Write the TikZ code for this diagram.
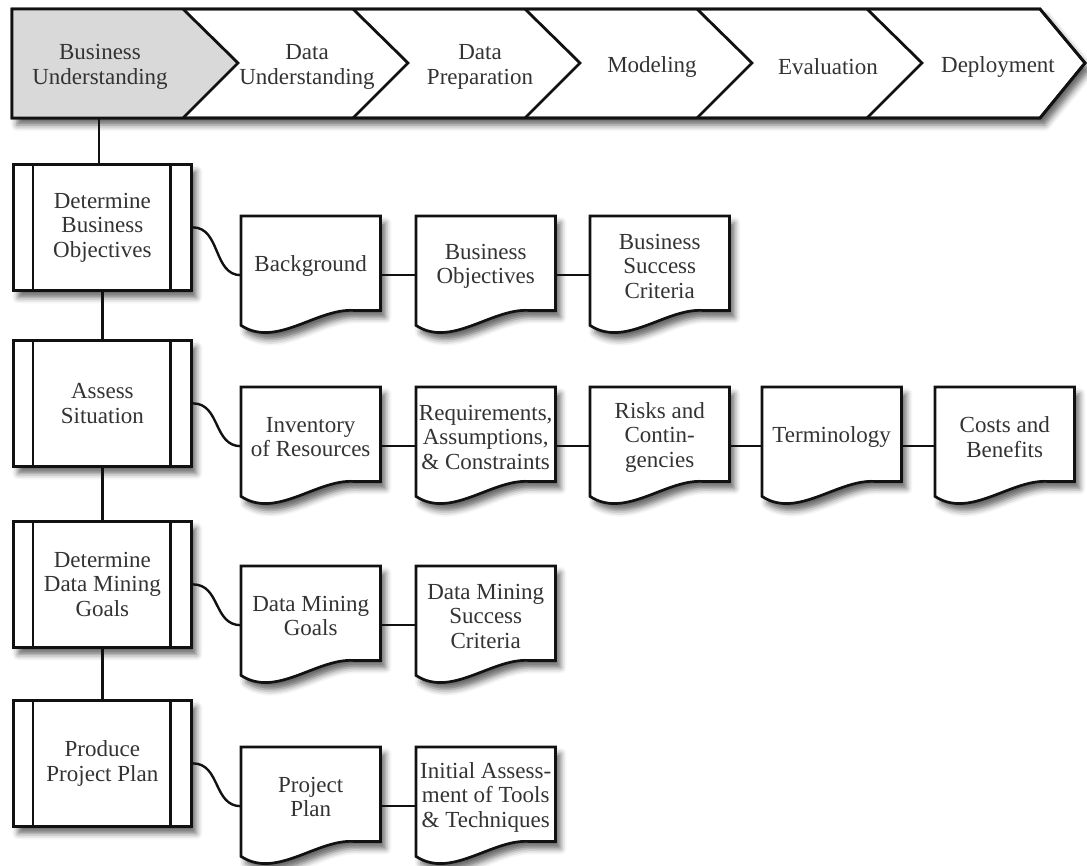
\documentclass[tikz,border=0pt]{standalone}
\usepackage{fontspec}
\setmainfont{Liberation Serif}
\usetikzlibrary{shadows.blur,backgrounds}
\definecolor{txtc}{HTML}{333333}
\definecolor{linec}{HTML}{111111}
\definecolor{greyfill}{HTML}{D9D9D9}
\tikzset{
  shad/.style={blur shadow={shadow xshift=5pt, shadow yshift=-7pt, shadow blur radius=6pt, shadow opacity=60}},
  txt/.style={font=\fontsize{23}{24.5}\selectfont, text=txtc, align=center, inner sep=0pt},
  proc/.style={draw=linec, line width=2.7pt, fill=white, minimum width=178pt, minimum height=126pt, anchor=north west, shad, txt},
  docbox/.style={minimum width=139pt, minimum height=94pt, anchor=north west, txt},
  docline/.style={draw=linec, line width=2.7pt, fill=white, shad},
  link/.style={draw=linec, line width=2.4pt},
  border/.style={draw=linec, line width=2.8pt, line join=miter},
}
% document outline: node sits 3pt below the drawn top edge
\newcommand\docshape[1]{%
  \path[docline] ([yshift=3pt]#1.north west) -- ([yshift=3pt]#1.north east) -- ([yshift=3pt]#1.south east)
    -- ([xshift=-27pt,yshift=3pt]#1.south east)
    .. controls ([xshift=-64pt,yshift=5pt]#1.south east) and ([xshift=35pt,yshift=-35pt]#1.south west)
    .. ([yshift=-12pt]#1.south west) -- cycle;}
\begin{document}
\begin{tikzpicture}[x=1pt,y=-1pt]
\useasboundingbox (0,0) rectangle (1087,865);
% banner
\path[border, fill=white, shad] (12,9) -- (1040,9) -- (1085,63) -- (1040,118) -- (12,118) -- cycle;
\fill[greyfill] (12,9) -- (183,9) -- (238,63) -- (183,118) -- (12,118) -- cycle;
\foreach \xx in {183,353,525,697,867}{
  \draw[border] (\xx,9) -- (\xx+55,63) -- (\xx,118);
}
\draw[border] (12,9) -- (1040,9) -- (1085,63) -- (1040,118) -- (12,118) -- cycle;
\node[txt] (c1) at (100,67) {Business\\Understanding};
\node[txt] (c2) at (307,67) {Data\\Understanding};
\node[txt] (c3) at (480,67) {Data\\Preparation};
\node[txt] (c4) at (652,67) {Modeling};
\node[txt] (c5) at (828,67) {Evaluation};
\node[txt] (c6) at (998,67) {Deployment};
\coordinate (cb) at (99,118);
% process boxes
\node[proc] (p1) at (12,163) {Determine\\Business\\Objectives};
\node[proc] (p2) at (12,339) {Assess\\Situation};
\node[proc] (p3) at (12,520) {Determine\\Data Mining\\Goals};
\node[proc] (p4) at (12,699) {Produce\\Project Plan};
\foreach \p in {p1,p2,p3,p4}{
  \draw[linec, line width=2.7pt] ([xshift=21pt]\p.north west) -- ([xshift=21pt]\p.south west);
  \draw[linec, line width=2.7pt] ([xshift=-22pt]\p.north east) -- ([xshift=-22pt]\p.south east);
}
% documents
\node[docbox] (a1) at (241,219) {Background};
\node[docbox] (a2) at (416,219) {Business\\Objectives};
\node[docbox] (a3) at (590,219) {Business\\Success\\Criteria};
\node[docbox] (b1) at (241,390) {Inventory\\of Resources};
\node[docbox] (b2) at (416,390) {Requirements,\\Assumptions,\\\& Constraints};
\node[docbox] (b3) at (590,390) {Risks and\\Contin-\\gencies};
\node[docbox] (b4) at (762,390) {Terminology};
\node[docbox] (b5) at (935,390) {Costs and\\Benefits};
\node[docbox] (e1) at (241,569) {Data Mining\\Goals};
\node[docbox] (e2) at (416,569) {Data Mining\\Success\\Criteria};
\node[docbox] (f1) at (241,750) {Project\\Plan};
\node[docbox] (f2) at (416,750) {Initial Assess-\\ment of Tools\\\& Techniques};
\begin{pgfonlayer}{background}
\foreach \d in {a1,a2,a3,b1,b2,b3,b4,b5,e1,e2,f1,f2}{\docshape{\d}}
\end{pgfonlayer}
% connectors
\draw[link] (cb) -- (cb |- p1.north);
\draw[link] (p1.south) -- (p2.north);
\draw[link] (p2.south) -- (p3.north);
\draw[link] (p3.south) -- (p4.north);
\draw[link] (p1.east) .. controls +(28,0) and +(-28,0) .. ([yshift=-9pt]a1.west);
\draw[link] (p2.east) .. controls +(28,0) and +(-28,0) .. ([yshift=-9pt]b1.west);
\draw[link] (p3.east) .. controls +(28,0) and +(-28,0) .. ([yshift=-9pt]e1.west);
\draw[link] (p4.east) .. controls +(28,0) and +(-28,0) .. ([yshift=-9pt]f1.west);
\draw[link] ([yshift=-9pt]a1.east) -- ([yshift=-9pt]a2.west);
\draw[link] ([yshift=-9pt]a2.east) -- ([yshift=-9pt]a3.west);
\draw[link] ([yshift=-9pt]b1.east) -- ([yshift=-9pt]b2.west);
\draw[link] ([yshift=-9pt]b2.east) -- ([yshift=-9pt]b3.west);
\draw[link] ([yshift=-9pt]b3.east) -- ([yshift=-9pt]b4.west);
\draw[link] ([yshift=-9pt]b4.east) -- ([yshift=-9pt]b5.west);
\draw[link] ([yshift=-9pt]e1.east) -- ([yshift=-9pt]e2.west);
\draw[link] ([yshift=-9pt]f1.east) -- ([yshift=-9pt]f2.west);
\end{tikzpicture}
\end{document}
